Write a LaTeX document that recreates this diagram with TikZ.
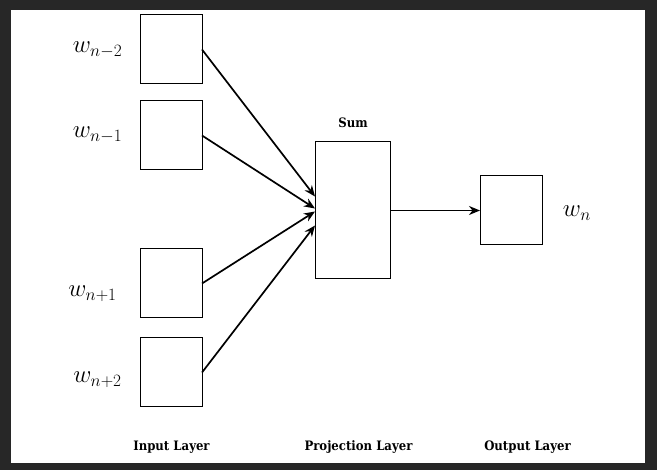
\documentclass[tikz,border=0pt]{standalone}
\usepackage{fontspec}
\usetikzlibrary{arrows.meta}
\newfontfamily\lblfont{DejaVu Serif Condensed}
\DeclareMathSizes{23}{23}{17}{12}
\definecolor{frame}{HTML}{272727}
\tikzset{
  box/.style={draw=black, line width=1pt, fill=white, inner sep=0pt, outer sep=0pt},
  wlabel/.style={inner sep=0pt, font=\fontsize{23}{27}\selectfont},
  layer/.style={inner sep=0pt, font=\lblfont\bfseries\fontsize{13}{15}\selectfont},
  conn/.style={line width=1.7pt, -{Stealth[length=11pt,width=9pt,inset=3.5pt]}}
}
\begin{document}
\begin{tikzpicture}[x=1pt,y=-1pt]
\useasboundingbox (0,0) rectangle (657,470);
\fill[frame] (0,0) rectangle (657,470);
\fill[white] (11,10) rectangle (645,463);
% input boxes
\node[box, minimum width=62pt, minimum height=69pt] (i1) at (171,49.5) {};
\node[box, minimum width=62pt, minimum height=69pt] (i2) at (171,135.5) {};
\node[box, minimum width=62pt, minimum height=69pt] (i3) at (171,283.5) {};
\node[box, minimum width=62pt, minimum height=69pt] (i4) at (171,372.5) {};
% projection
\node[box, minimum width=75pt, minimum height=137pt] (p) at (352.5,210.5) {};
% output
\node[box, minimum width=62pt, minimum height=69pt] (o) at (511,210.5) {};
% labels
\node[wlabel] (l1) at (97.5,50) {$w_{n-2}$};
\node[wlabel] (l2) at (97.5,135) {$w_{n-1}$};
\node[wlabel] (l3) at (92.5,294) {$w_{n+1}$};
\node[wlabel] (l4) at (97.5,380) {$w_{n+2}$};
\node[wlabel] (l5) at (577,213) {$w_{n}$};
\node[layer] (sum) at (353,123) {Sum};
\node[layer] (t1) at (171.5,447) {Input Layer};
\node[layer] (t2) at (358.5,447) {Projection Layer};
\node[layer] (t3) at (527.5,447) {Output Layer};
% connectors
\coordinate (a1) at ([yshift=14pt]p.west);
\coordinate (a2) at ([yshift=2pt]p.west);
\coordinate (a3) at ([yshift=-1pt]p.west);
\coordinate (a4) at ([yshift=-15pt]p.west);
\draw[conn] (i1.east) -- (a1);
\draw[conn] (i2.east) -- (a2);
\draw[conn] (i3.east) -- (a3);
\draw[conn] (i4.east) -- (a4);
\draw[conn] (p.east) -- (o.west);
\end{tikzpicture}
\end{document}
